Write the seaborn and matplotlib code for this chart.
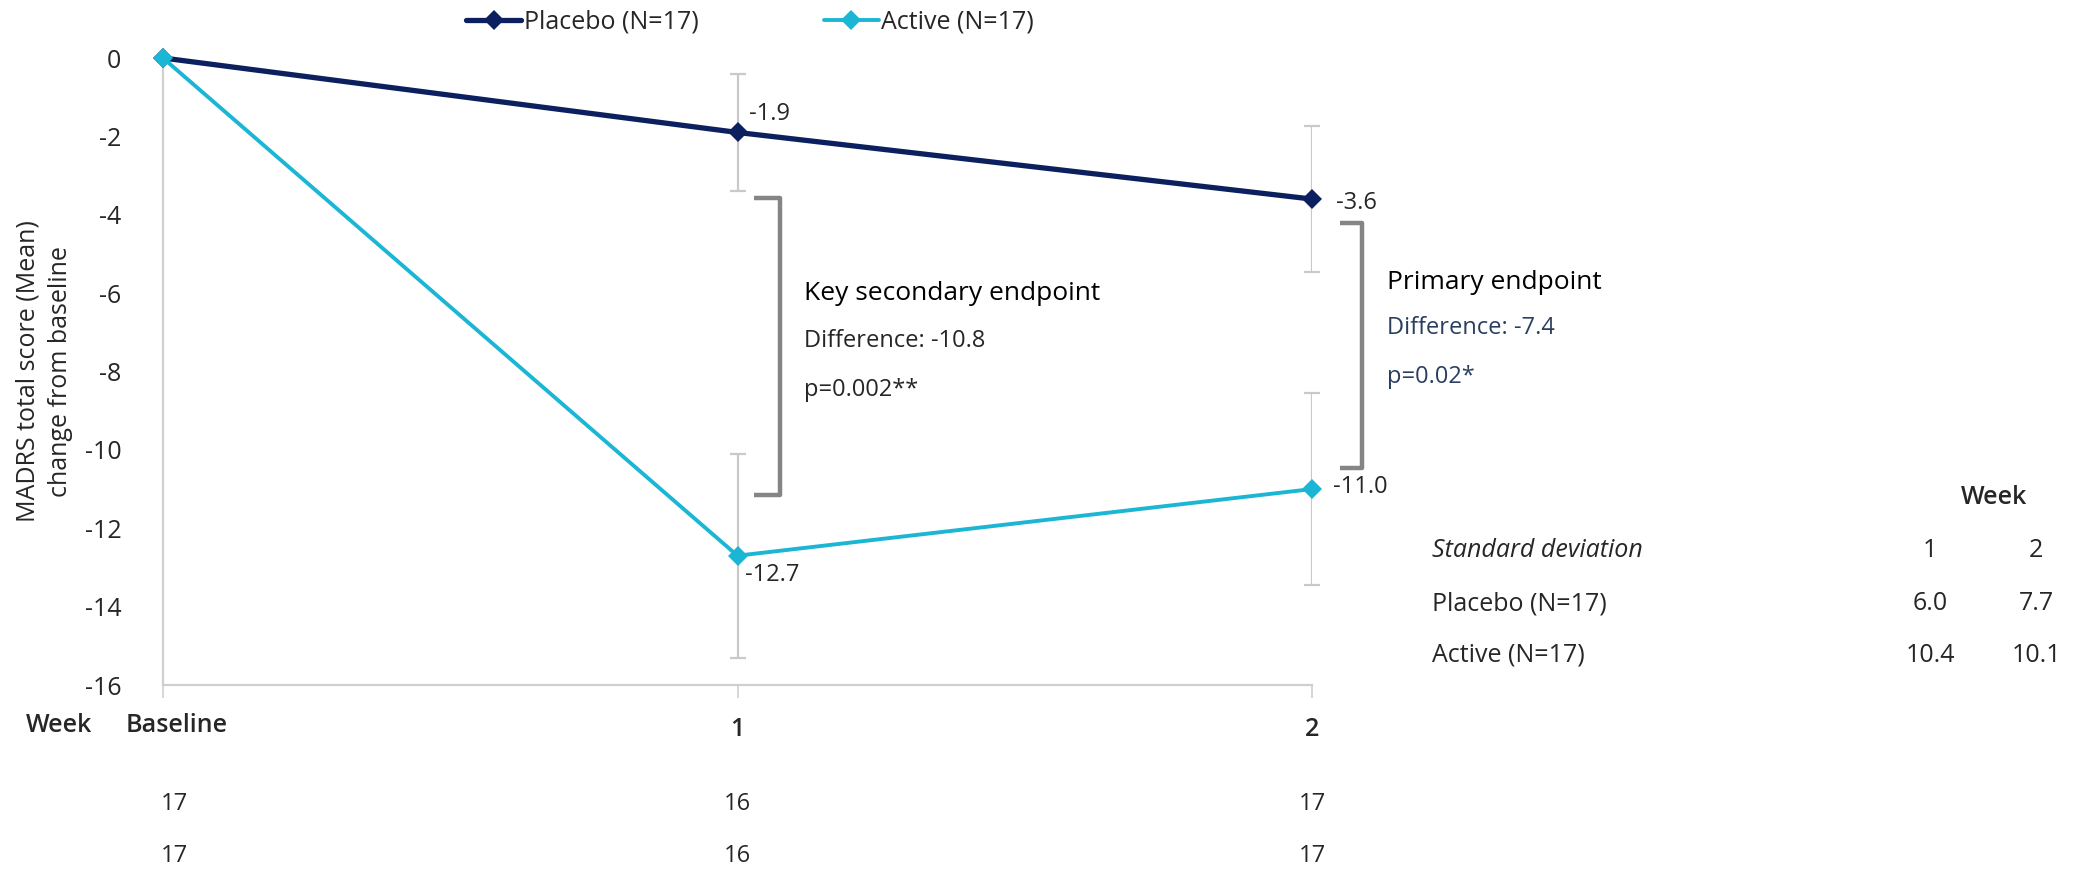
import numpy as np
import pandas as pd
import matplotlib
matplotlib.use("Agg")
import matplotlib.pyplot as plt
import seaborn as sns

# ---- data ----
weeks = [0, 1, 2]
week_labels = ["Baseline", "1", "2"]
placebo_mean = [0.0, -1.9, -3.6]
active_mean = [0.0, -12.7, -11.0]
placebo_sd = [0.0, 6.0, 7.7]
active_sd = [0.0, 10.4, 10.1]
placebo_n = [17, 16, 17]
active_n = [17, 16, 17]
placebo_name = "Placebo (N=17)"
active_name = "Active (N=17)"
key_diff_text = ["Key secondary endpoint", "Difference: -10.8", "p=0.002**"]
primary_diff_text = ["Primary endpoint", "Difference: -7.4", "p=0.02*"]

NAVY = "#0c1f5f"
CYAN = "#1bb6d4"
GREY_ERR = "#c9c9c9"
GREY_BRACKET = "#858585"
SLATE = "#2a3f5f"

sns.set_theme(style="white")
plt.rcParams["font.family"] = ["Open Sans", "DejaVu Sans"]
plt.rcParams["axes.unicode_minus"] = False
FS = 17

W, H = 2074, 872
fig = plt.figure(figsize=(W / 100, H / 100), dpi=100)
ax = fig.add_axes([163 / W, 1 - 685 / H, (1312 - 163) / W, (685 - 58) / H])

df = pd.DataFrame({
    "week": weeks * 2,
    "value": placebo_mean + active_mean,
    "group": [placebo_name] * 3 + [active_name] * 3,
})

# standard errors from SD and N
p_se = [sd / np.sqrt(n) for sd, n in zip(placebo_sd, placebo_n)]
a_se = [sd / np.sqrt(n) for sd, n in zip(active_sd, active_n)]
for means, se in ((placebo_mean, p_se), (active_mean, a_se)):
    ax.errorbar(weeks[1:], means[1:], yerr=se[1:], fmt="none", ecolor=GREY_ERR,
                elinewidth=1.6, capsize=6, capthick=1.6, zorder=1)

sns.lineplot(data=df, x="week", y="value", hue="group", style="group",
             palette={placebo_name: NAVY, active_name: CYAN},
             markers={placebo_name: "D", active_name: "D"}, dashes=False,
             markersize=10, markeredgewidth=0, ax=ax, zorder=3)
for ln in ax.get_lines():
    ln.set_clip_on(False)
    if ln.get_color() == NAVY:
        ln.set_linewidth(3.8)
    elif ln.get_color() == CYAN:
        ln.set_linewidth(2.8)

ax.set_xlim(0, 2)
ax.set_ylim(-16, 0)
ax.set_yticks(np.arange(-16, 1, 2))
ax.set_xticks(weeks)
# the baseline label sits slightly right of its tick, so it is drawn separately
ax.set_xticklabels([""] + week_labels[1:], fontweight="semibold", fontsize=FS + 1)
ax.annotate(week_labels[0], xy=(0, 0), xycoords=("data", "axes fraction"),
            xytext=(10, -29), textcoords="offset points", ha="center", va="center",
            fontweight="semibold", fontsize=FS + 1, annotation_clip=False)
ax.tick_params(axis="y", length=0, pad=30, labelsize=FS + 1)
ax.tick_params(axis="x", length=9, width=1.2, color="#cfcfcf", direction="out",
               pad=14, bottom=True)
ax.set_xlabel("")
ax.set_ylabel("MADRS total score (Mean)\nchange from baseline", fontsize=FS + 1,
              labelpad=8, linespacing=1.4)
for s in ("top", "right"):
    ax.spines[s].set_visible(False)
for s in ("left", "bottom"):
    ax.spines[s].set_color("#cfcfcf")
    ax.spines[s].set_linewidth(1.6)

# legend across the top
handles, labels = ax.get_legend_handles_labels()
for h in handles:
    h.set_markersize(10)
leg = ax.legend(handles, labels, loc="center", bbox_to_anchor=(750 / W, 1 - 22 / H),
                bbox_transform=fig.transFigure, ncol=2, frameon=False,
                fontsize=FS + 1, columnspacing=5.0, handlelength=2.2, handletextpad=0.1)

# value labels
ax.text(1.02, -1.42, "-1.9", fontsize=FS, va="center", ha="left")
ax.text(2.042, -3.71, "-3.6", fontsize=FS, va="center", ha="left")
ax.text(1.013, -13.2, "-12.7", fontsize=FS, va="center", ha="left")
ax.text(2.037, -10.94, "-11.0", fontsize=FS, va="center", ha="left")

# brackets
def bracket(x_tip, x_spine, y_top, y_bot):
    ax.plot([x_tip, x_spine, x_spine, x_tip], [y_top, y_top, y_bot, y_bot],
            color=GREY_BRACKET, lw=3.2, solid_joinstyle="round",
            solid_capstyle="butt", clip_on=False, zorder=2)

bracket(1.029, 1.074, -3.58, -11.15)
bracket(2.049, 2.087, -4.22, -10.45)

# annotations
ax.text(1.116, -6.01, key_diff_text[0], fontsize=FS + 2, va="center", ha="left",
        color="black")
ax.text(1.116, -7.22, key_diff_text[1], fontsize=FS, va="center", ha="left")
ax.text(1.116, -8.47, key_diff_text[2], fontsize=FS, va="center", ha="left")
ax.text(2.131, -5.74, primary_diff_text[0], fontsize=FS + 2, va="center", ha="left",
        color="black", clip_on=False)
ax.text(2.131, -6.89, primary_diff_text[1], fontsize=FS, va="center", ha="left",
        color=SLATE, clip_on=False)
ax.text(2.131, -8.14, primary_diff_text[2], fontsize=FS, va="center", ha="left",
        color=SLATE, clip_on=False)

# "Week" row label and patient-count rows
fig.text(26 / W, 1 - 725 / H, "Week", fontsize=FS + 1, fontweight="semibold",
         va="center", ha="left")
for row_y, ns in ((804, placebo_n), (856, active_n)):
    for wk, n in zip(weeks, ns):
        xd = ax.transData.transform((wk, 0))[0]
        xf = fig.transFigure.inverted().transform((xd, 0))[0]
        if wk == 0:
            xf += 11 / W
        fig.text(xf, 1 - row_y / H, str(n), fontsize=FS, va="center", ha="center")

# SD table
col_x = [1930 / W, 2036 / W]
fig.text(1994 / W, 1 - 497 / H, "Week", fontsize=FS + 1, fontweight="semibold",
         va="center", ha="center")
fig.text(1432 / W, 1 - 550 / H, "Standard deviation", fontsize=FS + 1, style="italic",
         va="center", ha="left")
for cx, wl in zip(col_x, week_labels[1:]):
    fig.text(cx, 1 - 550 / H, wl, fontsize=FS + 1, va="center", ha="center")
for row_y, name, sds in ((604, placebo_name, placebo_sd), (655, active_name, active_sd)):
    fig.text(1432 / W, 1 - row_y / H, name, fontsize=FS + 1, va="center", ha="left")
    for cx, sd in zip(col_x, sds[1:]):
        fig.text(cx, 1 - row_y / H, f"{sd:.1f}", fontsize=FS + 1, va="center", ha="center")

fig.savefig("out.png", dpi=100, facecolor="white")
